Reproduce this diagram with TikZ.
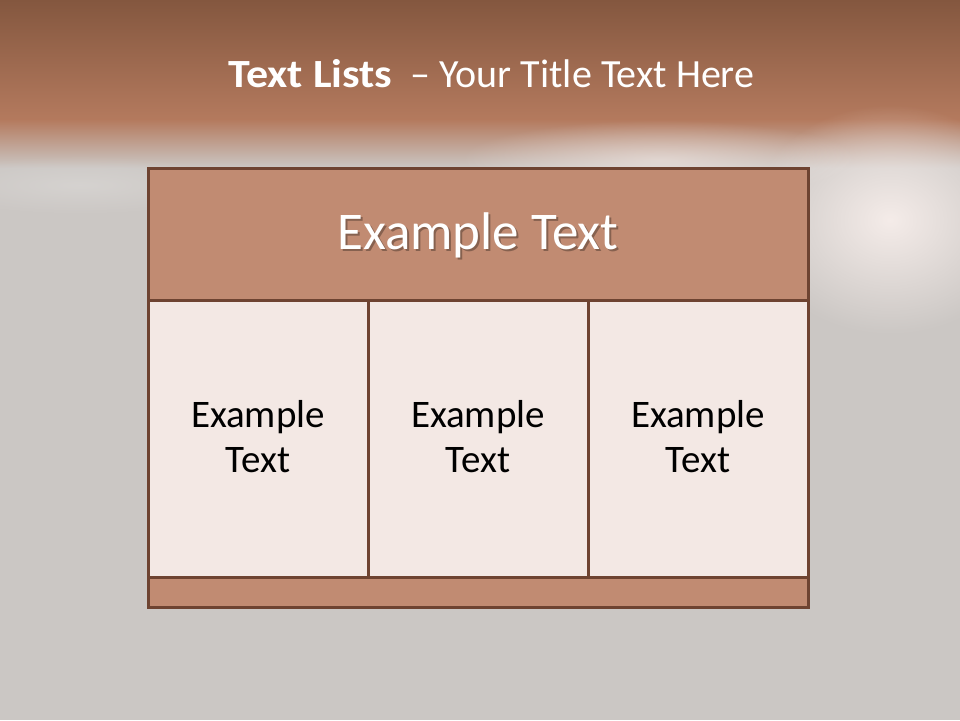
\documentclass[tikz,border=0pt]{standalone}
\usepackage{fontspec}
\usepackage{graphicx}
\setmainfont{Carlito}
\usetikzlibrary{fadings}
\definecolor{bgGray}{HTML}{CBC7C4}
\definecolor{topDark}{HTML}{84573F}
\definecolor{topMid}{HTML}{B47A5E}
\definecolor{hdrFill}{HTML}{C18B72}
\definecolor{cellFill}{HTML}{F3E8E4}
\definecolor{edgeBrown}{HTML}{6E4331}
\definecolor{glow}{HTML}{F7EEEB}
\tikzfading[name=softglow, inner color=transparent!0, outer color=transparent!100]
\tikzset{
  panel/.style={draw=edgeBrown, line width=3pt, inner sep=0pt, outer sep=0pt},
  hdrbox/.style={panel, fill=hdrFill},
  cellbox/.style={panel, fill=cellFill},
  hdrtext/.style={text=white, font=\fontsize{53}{60}\selectfont, anchor=base, inner sep=0pt},
  shadowtext/.style={text=black, opacity=0.3, font=\fontsize{53}{60}\selectfont, anchor=base, inner sep=0pt},
  celltext/.style={text=black, font=\fontsize{39}{45}\selectfont, align=center, inner sep=0pt, anchor=base},
  titletext/.style={text=white, font=\fontsize{40}{46}\selectfont, anchor=base west, inner sep=0pt}
}
\begin{document}
\begin{tikzpicture}[x=1pt, y=-1pt]
\useasboundingbox (0,0) rectangle (960,720);
% background
\fill[bgGray] (0,0) rectangle (960,720);
\shade[top color=topDark, bottom color=topMid] (0,0) rectangle (960,120);
\shade[top color=topMid, bottom color=bgGray] (0,119.5) rectangle (960,168);
\begin{scope}
\clip (0,0) rectangle (960,720);
\fill[glow, opacity=0.95, path fading=softglow] (890,220) ellipse (140 and 115);
\fill[glow, opacity=0.55, path fading=softglow] (660,160) ellipse (200 and 40);
\fill[white, opacity=0.2, path fading=softglow] (80,185) ellipse (160 and 30);
\end{scope}
% title
\node[titletext] (title) at (228,87) {\scalebox{1.1}[1]{\textbf{Text Lists}}\hspace{18pt}– Your Title Text Here};
% table
\node[hdrbox, minimum width=660pt, minimum height=132pt] (hdr) at (478,234) {};
\node[cellbox, minimum width=220pt, minimum height=277pt] (c1) at (258,438.5) {};
\node[cellbox, minimum width=220pt, minimum height=277pt] (c2) at (478,438.5) {};
\node[cellbox, minimum width=220pt, minimum height=277pt] (c3) at (698,438.5) {};
\node[hdrbox, minimum width=660pt, minimum height=30pt] (ftr) at (478,592) {};
\draw[edgeBrown, line width=3pt] (hdr.north west) rectangle (ftr.south east);
% header text
\node[shadowtext] (hdrshadow) at ([shift={(2,2)}]hdr.center |- 0,249) {Example Text};
\node[hdrtext] (hdrlabel) at (hdr.center |- 0,249) {Example Text};
% cell texts
\node[celltext] (t1) at (c1.center |- 0,472) {Example\\Text};
\node[celltext] (t2) at (c2.center |- 0,472) {Example\\Text};
\node[celltext] (t3) at (c3.center |- 0,472) {Example\\Text};
\end{tikzpicture}
\end{document}
